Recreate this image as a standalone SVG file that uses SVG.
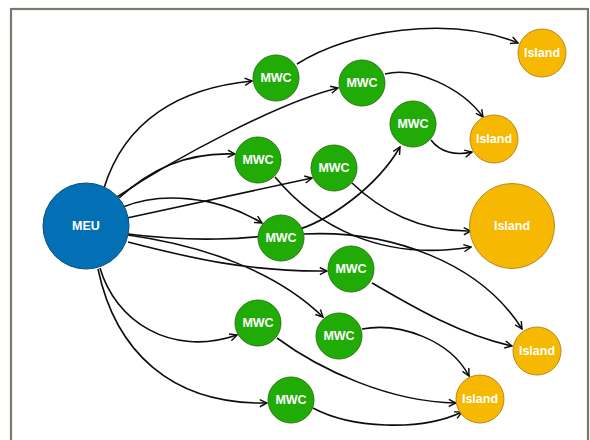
<svg xmlns="http://www.w3.org/2000/svg" width="590" height="440" viewBox="0 0 590 440">
<style>
.e{fill:none;stroke:#0d0d0d;stroke-width:1.6;marker-end:url(#arr)}
.meu{fill:#0370b6;stroke:#0e4d7a;stroke-width:1}
.mwc{fill:#20ab07;stroke:#2a7a10;stroke-width:1}
.isl{fill:#f6b800;stroke:#b58a1d;stroke-width:1}
text{font-family:"Liberation Sans",Arial,sans-serif;font-size:12.5px;font-weight:bold;fill:#fff;text-anchor:middle;dominant-baseline:central}
</style>
<defs>
<marker id="arr" viewBox="0 0 10 10" refX="9" refY="5" markerWidth="9" markerHeight="9" markerUnits="userSpaceOnUse" orient="auto">
<path d="M1,1 L9,5 L1,9" fill="none" stroke="#0d0d0d" stroke-width="1.6"/>
</marker>
</defs>
<rect x="0" y="0" width="590" height="440" fill="#fff"/>
<rect x="11" y="9" width="577" height="450" fill="#fff" stroke="#7d786e" stroke-width="2.2"/>
<g id="connectors">
<path class="e" d="M104,188 C125,120 180,88 252,81"/>
<path class="e" d="M117,197 C175,158 280,102 338,88"/>
<path class="e" d="M119,198 C150,170 185,152 235,154"/>
<path class="e" d="M127,218 L312,178"/>
<path class="e" d="M123,207 C160,192 215,195 262,223"/>
<path class="e" d="M128,234 C190,242 250,240 290,232 C330,222 378,185 400,147"/>
<path class="e" d="M128,242 C190,258 250,272 327,271"/>
<path class="e" d="M128,235 C200,245 275,270 323,317"/>
<path class="e" d="M100,268 C115,320 170,358 237,335"/>
<path class="e" d="M98,269 C115,350 170,405 267,403"/>
<path class="e" d="M297,64 C350,30 450,15 518,43"/>
<path class="e" d="M385,74 C415,66 462,88 483,117"/>
<path class="e" d="M431,140 C440,152 455,156 472,152"/>
<path class="e" d="M275,177 C315,225 380,262 471,247"/>
<path class="e" d="M352,183 C380,210 420,232 471,231"/>
<path class="e" d="M304,234 C390,230 480,262 522,329"/>
<path class="e" d="M372,283 C410,305 460,335 512,346"/>
<path class="e" d="M362,329 C400,322 450,340 469,376"/>
<path class="e" d="M277,338 C320,370 390,402 456,403"/>
<path class="e" d="M313,408 C350,428 420,432 462,412"/>
</g>
<g id="meu"><circle class="meu" cx="86" cy="226" r="43"/><text x="86" y="226">MEU</text></g>
<g id="mwc1"><circle class="mwc" cx="276" cy="78" r="23"/><text x="276" y="78">MWC</text></g>
<g id="mwc2"><circle class="mwc" cx="258" cy="160" r="23"/><text x="258" y="160">MWC</text></g>
<g id="mwc3"><circle class="mwc" cx="362" cy="83" r="23"/><text x="362" y="83">MWC</text></g>
<g id="mwc4"><circle class="mwc" cx="413" cy="124" r="23"/><text x="413" y="124">MWC</text></g>
<g id="mwc5"><circle class="mwc" cx="334" cy="168" r="23"/><text x="334" y="168">MWC</text></g>
<g id="mwc6"><circle class="mwc" cx="281" cy="238" r="23"/><text x="281" y="238">MWC</text></g>
<g id="mwc7"><circle class="mwc" cx="351" cy="269" r="23"/><text x="351" y="269">MWC</text></g>
<g id="mwc8"><circle class="mwc" cx="339" cy="336" r="23"/><text x="339" y="336">MWC</text></g>
<g id="mwc9"><circle class="mwc" cx="258" cy="323" r="23"/><text x="258" y="323">MWC</text></g>
<g id="mwc10"><circle class="mwc" cx="291" cy="400" r="23"/><text x="291" y="400">MWC</text></g>
<g id="island1"><circle class="isl" cx="542" cy="53" r="24"/><text x="542" y="53">Island</text></g>
<g id="island2"><circle class="isl" cx="494" cy="139" r="24"/><text x="494" y="139">Island</text></g>
<g id="island3"><circle class="isl" cx="512" cy="226" r="42.5"/><text x="512" y="226">Island</text></g>
<g id="island4"><circle class="isl" cx="537" cy="351" r="24"/><text x="537" y="351">Island</text></g>
<g id="island5"><circle class="isl" cx="480" cy="399" r="24"/><text x="480" y="399">Island</text></g>
</svg>
